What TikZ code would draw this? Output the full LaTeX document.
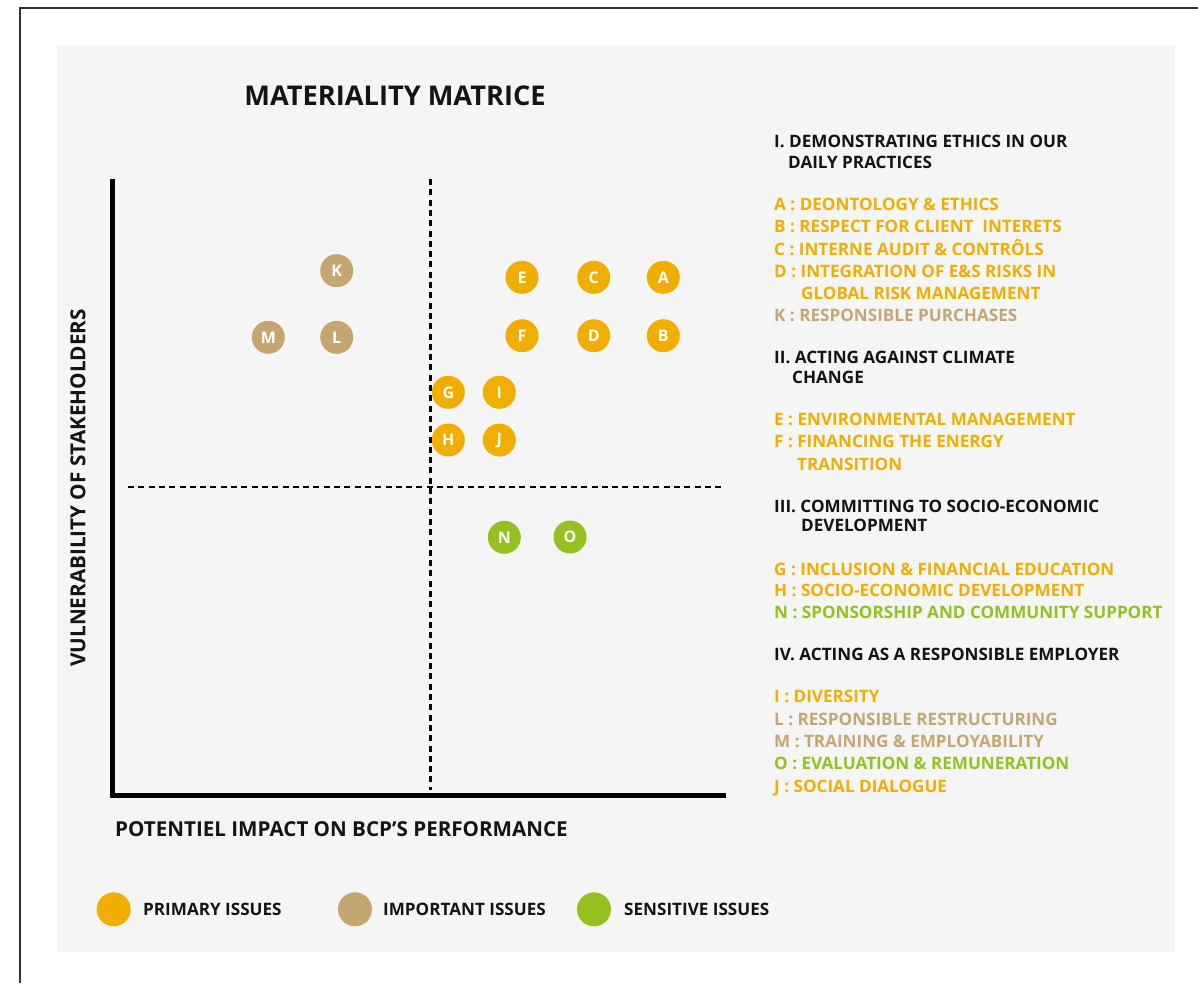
\documentclass[tikz,border=0pt]{standalone}
\usepackage{fontspec}
\setmainfont{Open Sans}
\definecolor{prim}{RGB}{240,174,0}
\definecolor{impo}{RGB}{196,167,112}
\definecolor{sens}{RGB}{149,193,31}
\definecolor{panel}{RGB}{245,245,245}
\definecolor{ink}{RGB}{20,20,20}
\tikzset{
  issue/.style={circle,fill=#1,minimum size=33pt,inner sep=0pt,text=white,font=\fontsize{16}{16}\selectfont\bfseries},
  legdot/.style={circle,fill=#1,minimum size=34pt,inner sep=0pt},
  item/.style={anchor=base west,inner sep=0pt,text=#1,font=\fontsize{17.1}{17}\selectfont\bfseries},
  head/.style={item=ink},
  axis/.style={line width=5pt},
  guide/.style={line width=2.5pt,dash pattern=on 6pt off 4.3pt},
}
\begin{document}
\begin{tikzpicture}[x=1pt,y=-1pt]
\useasboundingbox (0,0) rectangle (1198,983);
\fill[white] (0,0) rectangle (1198,983);
\draw[line width=1.5pt,black!80] (20,983) -- (20,8) -- (1198,8);
\fill[panel] (57,45) rectangle (1175,952);
% title
\node[font=\fontsize{27.2}{27}\selectfont\bfseries,text=ink] (title) at (395,96) {MATERIALITY MATRICE};
% axes
\draw[axis,line join=miter] (112.5,179) -- (112.5,795) -- (726,795);
\draw[guide] (430.5,179) -- (430.5,790);
\draw[guide] (128,487) -- (723,487);
\node[rotate=90,font=\fontsize{20.7}{20}\selectfont\bfseries,text=ink] (ylab) at (78,488) {VULNERABILITY OF STAKEHOLDERS};
\node[anchor=west,inner sep=0pt,font=\fontsize{20.6}{20}\selectfont\bfseries,text=ink] (xlab) at (115,829) {POTENTIEL IMPACT ON BCP’S PERFORMANCE};
% issues
\node[issue=impo] (K) at (336.7,270.7) {K};
\node[issue=impo] (M) at (268.3,337.3) {M};
\node[issue=impo] (L) at (336.7,337.3) {L};
\node[issue=prim] (E) at (522,277.3) {E};
\node[issue=prim] (C) at (593.7,277.3) {C};
\node[issue=prim] (A) at (663.3,277.3) {A};
\node[issue=prim] (F) at (522,335.7) {F};
\node[issue=prim] (D) at (593.7,335.7) {D};
\node[issue=prim] (B) at (663.3,335.7) {B};
\node[issue=prim] (G) at (448.3,392.3) {G};
\node[issue=prim] (I) at (499.3,392.3) {I};
\node[issue=prim] (H) at (448.3,440) {H};
\node[issue=prim] (J) at (499.3,440) {J};
\node[issue=sens] (N) at (504.3,537.3) {N};
\node[issue=sens] (O) at (570,537) {O};
% legend
\node[legdot=prim] (lp) at (113.7,909.3) {};
\node[item=ink,anchor=west] (lpt) at (143,909.3) {PRIMARY ISSUES};
\node[legdot=impo] (li) at (355,909.3) {};
\node[item=ink,anchor=west] (lit) at (383,909.3) {IMPORTANT ISSUES};
\node[legdot=sens] (ls) at (594,909.3) {};
\node[item=ink,anchor=west] (lst) at (624,909.3) {SENSITIVE ISSUES};
% right column
\node[head] (h1) at (774,147) {I. DEMONSTRATING ETHICS IN OUR};
\node[head] (h1b) at (788,168) {DAILY PRACTICES};
\node[item=prim] (tA) at (774,210) {A : DEONTOLOGY \& ETHICS};
\node[item=prim] (tB) at (774,232.5) {B : RESPECT FOR CLIENT\ \ INTERETS};
\node[item=prim] (tC) at (774,255) {C : INTERNE AUDIT \& CONTRÔLS};
\node[item=prim] (tD) at (774,277) {D : INTEGRATION OF E\&S RISKS IN};
\node[item=prim] (tDb) at (801,299) {GLOBAL RISK MANAGEMENT};
\node[item=impo] (tK) at (774,321.5) {K : RESPONSIBLE PURCHASES};
\node[head] (h2) at (774,363) {II. ACTING AGAINST CLIMATE};
\node[head] (h2b) at (792,383) {CHANGE};
\node[item=prim] (tE) at (774,425) {E : ENVIRONMENTAL MANAGEMENT};
\node[item=prim] (tF) at (774,447) {F : FINANCING THE ENERGY};
\node[item=prim] (tFb) at (797,470) {TRANSITION};
\node[head] (h3) at (774,512) {III. COMMITTING TO SOCIO-ECONOMIC};
\node[head] (h3b) at (801,531) {DEVELOPMENT};
\node[item=prim] (tG) at (774,575) {G : INCLUSION \& FINANCIAL EDUCATION};
\node[item=prim] (tH) at (774,596.5) {H : SOCIO-ECONOMIC DEVELOPMENT};
\node[item=sens] (tN) at (774,618.5) {N : SPONSORSHIP AND COMMUNITY SUPPORT};
\node[head] (h4) at (774,660) {IV. ACTING AS A RESPONSIBLE EMPLOYER};
\node[item=prim] (tI) at (774,702) {I : DIVERSITY};
\node[item=impo] (tL) at (774,725) {L : RESPONSIBLE RESTRUCTURING};
\node[item=impo] (tM) at (774,747.5) {M : TRAINING \& EMPLOYABILITY};
\node[item=sens] (tO) at (774,769) {O : EVALUATION \& REMUNERATION};
\node[item=prim] (tJ) at (774,792) {J : SOCIAL DIALOGUE};
\end{tikzpicture}
\end{document}
